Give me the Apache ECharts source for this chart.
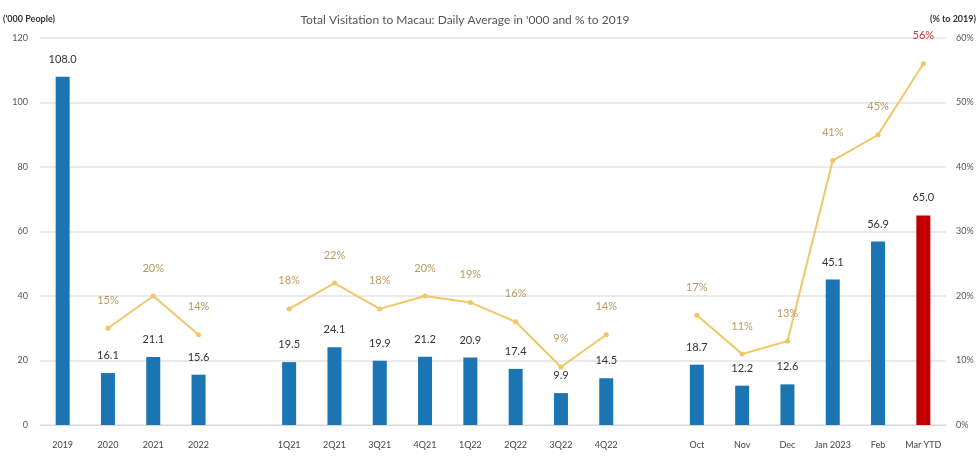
<!DOCTYPE html>
<html>
<head>
<meta charset="utf-8">
<script src="https://cdn.jsdelivr.net/npm/echarts@6/dist/echarts.min.js"></script>
<style>
  html, body { margin: 0; padding: 0; background: #fff; }
  #chart { width: 979px; height: 461px; }
</style>
</head>
<body>
<div id="chart"></div>
<script>
// empty strings are the spacer columns between the three groups
const categories = ["2019", "2020", "2021", "2022", "",
    "1Q21", "2Q21", "3Q21", "4Q21", "1Q22", "2Q22", "3Q22", "4Q22", "",
    "Oct", "Nov", "Dec", "Jan 2023", "Feb", "Mar YTD"]
const visitors = [108.0, 16.1, 21.1, 15.6, null,
    19.5, 24.1, 19.9, 21.2, 20.9, 17.4, 9.9, 14.5, null,
    18.7, 12.2, 12.6, 45.1, 56.9, 65.0]
const pctTo2019 = [null, 15, 20, 14, null,
    18, 22, 18, 20, 19, 16, 9, 14, null,
    17, 11, 13, 41, 45, 56]
const leftTicks = [0, 20, 40, 60, 80, 100, 120]
const rightTicks = [0, 10, 20, 30, 40, 50, 60]

const font = "Lato, 'Noto Sans', sans-serif"
const blue = "#1b75b3"
const red = "#c00000"
const gold = "#f1c667"

const chart = echarts.init(document.getElementById("chart"), null, { renderer: "canvas" })

const last = categories.length - 1
const barData = visitors.map((v, i) => i === last
    ? { value: v, itemStyle: { color: red } }
    : v)
const lineData = pctTo2019.map((v, i) => i === last
    ? { value: v, label: { color: "#d0303a" } }
    : v)

const option = {
    animation: false,
    textStyle: { fontFamily: font },
    title: {
        text: "Total Visitation to Macau: Daily Average in '000 and % to 2019",
        left: 460,
        textAlign: "center",
        top: 9,
        textStyle: { fontSize: 12, fontWeight: "normal", color: "#555", fontFamily: font }
    },
    grid: { left: 40, right: 33, top: 38, bottom: 36 },
    xAxis: {
        type: "category",
        data: categories,
        axisLine: { show: true, lineStyle: { color: "#d9d9d9" } },
        axisTick: { show: false },
        axisLabel: { color: "#444", fontSize: 9, margin: 16, interval: 0 }
    },
    yAxis: [
        {
            type: "value",
            min: leftTicks[0],
            max: leftTicks[leftTicks.length - 1],
            interval: 20,
            name: "('000 People)",
            nameLocation: "end",
            nameGap: 14,
            nameTextStyle: { color: "#333", fontSize: 9, fontWeight: "bold", align: "left", padding: [0, 0, 0, -37] },
            axisLine: { show: false },
            axisTick: { show: false },
            axisLabel: { color: "#555", fontSize: 9, margin: 12 },
            splitLine: { lineStyle: { color: "#e3e3e3", width: 1.5 } }
        },
        {
            type: "value",
            min: rightTicks[0],
            max: rightTicks[rightTicks.length - 1],
            interval: 10,
            name: "(% to 2019)",
            nameLocation: "end",
            nameGap: 14,
            nameTextStyle: { color: "#333", fontSize: 9, fontWeight: "bold", align: "right", padding: [0, -30, 0, 0] },
            axisLine: { show: false },
            axisTick: { show: false },
            axisLabel: { color: "#555", fontSize: 9, margin: 10, formatter: "{value}%" },
            splitLine: { show: false }
        }
    ],
    series: [
        {
            name: "Daily average ('000)",
            type: "bar",
            yAxisIndex: 0,
            data: barData,
            barWidth: 14,
            itemStyle: { color: blue },
            label: {
                show: true,
                position: "top",
                distance: 12,
                color: "#333",
                fontSize: 11,
                formatter: p => p.value.toFixed(1)
            },
            z: 2
        },
        {
            name: "% to 2019",
            type: "line",
            yAxisIndex: 1,
            data: lineData,
            connectNulls: false,
            symbol: "circle",
            symbolSize: 5,
            itemStyle: { color: gold },
            lineStyle: { color: gold, width: 2 },
            label: {
                show: true,
                position: "top",
                distance: 20,
                color: "#b99a5c",
                fontSize: 11,
                formatter: "{c}%"
            },
            z: 3
        }
    ]
}

chart.setOption(option)
</script>
</body>
</html>
